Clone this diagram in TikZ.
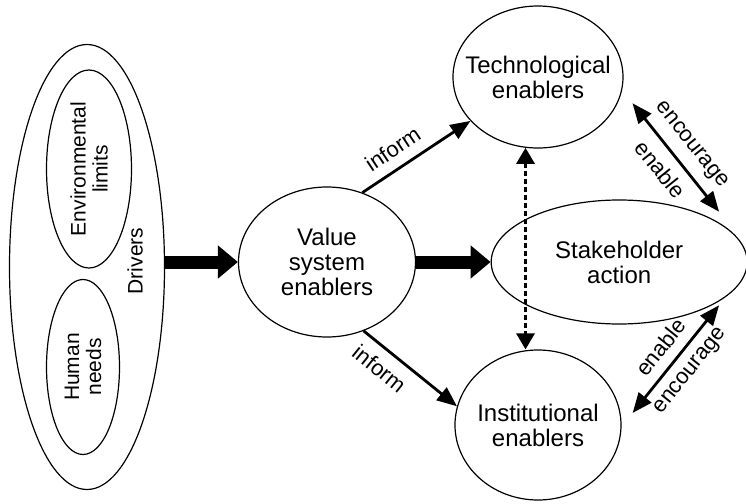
\documentclass[tikz,border=0pt]{standalone}
\usepackage{fontspec}
\setmainfont{Liberation Sans}
\usetikzlibrary{shapes.geometric,positioning,arrows.meta}

\tikzset{
  blob/.style={ellipse, draw, line width=0.6pt, inner xsep=-40pt, inner ysep=-25pt, align=center,
    font=\fontsize{12}{12.5}\selectfont},
  driver/.style={blob, rotate=90, font=\fontsize{10.5}{11}\selectfont},
  fat/.style={line width=6.5pt, -{Triangle[width=16pt,length=10pt]}},
  oneway/.style={line width=1.4pt, -{Triangle[width=8pt,length=10pt]}},
  twoway/.style={line width=1.4pt, {Triangle[width=8pt,length=10pt]}-{Triangle[width=8pt,length=10pt]}},
  dotway/.style={line width=1.6pt, dash pattern=on 2.5pt off 1.5pt,
    {Triangle[width=9pt,length=8pt]}-{Triangle[width=9pt,length=8pt]}},
  lbl/.style={sloped, inner sep=1pt, font=\fontsize{11}{11}\selectfont}
}

\begin{document}
\begin{tikzpicture}[x=0.5pt,y=-0.5pt]
  \useasboundingbox (0,0) rectangle (746,504);

  % drivers
  \node[blob, minimum width=77.5pt, minimum height=222.5pt] (drivers) at (87,267) {};
  \node[driver, minimum width=99pt, minimum height=42.5pt] (envlim) at (89,169) {Environmental\\limits};
  \node[driver, minimum width=87.5pt, minimum height=36.5pt] (needs) at (83,367) {Human\\needs};
  \node[rotate=90, font=\fontsize{10.5}{11}\selectfont] (drvlabel) at (135,261) {Drivers};

  \node[blob, minimum width=88.5pt, minimum height=75pt] (value) at (327,262) {Value\\system\\enablers};
  \node[blob, minimum width=128pt, minimum height=62pt, right=37.25pt of value] (stake) {Stakeholder\\action};
  \node[blob, minimum width=85pt, minimum height=71pt] (tech) at (538,77) {Technological\\enablers};
  \node[blob, minimum width=83pt, minimum height=75pt] (inst) at (538,425) {Institutional\\enablers};

  \draw[fat] (drivers.east |- value.west) -- (value.west);
  \draw[fat] (value) -- (stake);
  \draw[oneway] (value.63) -- (tech.213) node[lbl, pos=0.38, above=4pt] {inform};
  \draw[oneway] (value.-62) -- (inst.167) node[lbl, pos=0.3, below=4pt] {inform};
  \draw[dotway] (tech.260) -- (tech.260 |- inst.north);
  \draw[twoway] ([shift={(6.5pt,-2.2pt)}]tech.-15) -- ([shift={(3.5pt,3.5pt)}]stake.25)
    node[lbl, midway, above=4pt] {encourage} node[lbl, midway, below=4pt] {enable};
  \draw[twoway] ([shift={(5.8pt,1.65pt)}]inst.6) -- ([shift={(3.5pt,0pt)}]stake.-25)
    node[lbl, midway, above=4pt] {enable} node[lbl, midway, below=4pt] {encourage};
\end{tikzpicture}
\end{document}
